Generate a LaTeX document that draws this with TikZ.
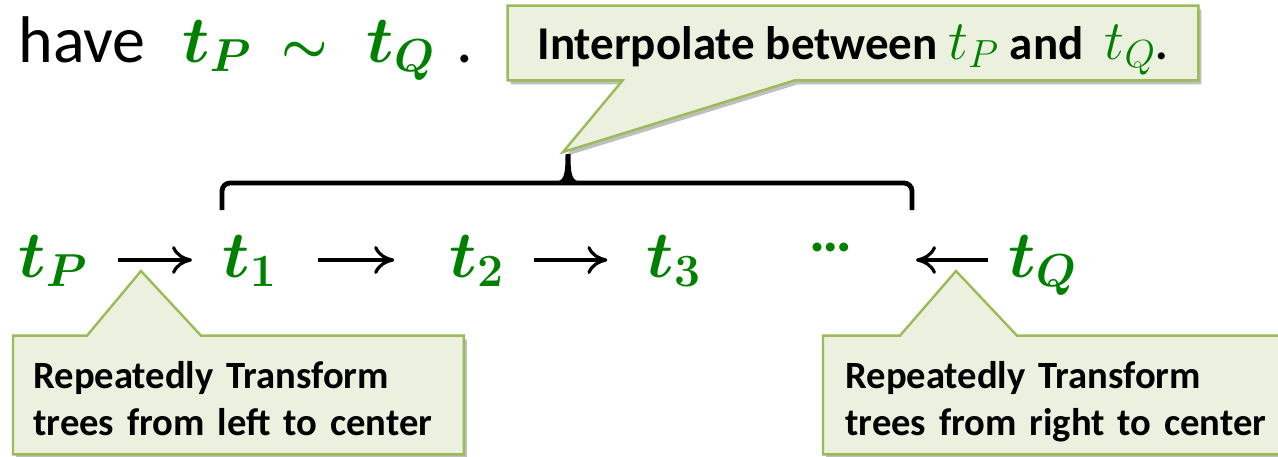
\RequirePackage{fix-cm}
\documentclass[tikz,border=0pt]{standalone}
\usepackage[no-math]{fontspec}
\setmainfont{Carlito}
\usepackage{bm}
\usetikzlibrary{positioning,arrows.meta,backgrounds,shadows}
\definecolor{moss}{HTML}{9BBB59}
\definecolor{pale}{HTML}{EBF1DE}
\definecolor{leaf}{HTML}{008000}
\newcommand{\boxterm}[1]{{\fontsize{28}{30}\selectfont\textcolor{leaf}{$#1$}}}
\tikzset{term/.style={inner sep=0pt,text=leaf,text height=24pt,text depth=7pt,font=\fontsize{33}{38}\selectfont},plain/.style={inner sep=0pt,font=\fontsize{33}{36}\selectfont},link/.style={line width=1.6pt,-{Computer Modern Rightarrow[length=10pt,width=14pt]}},bracket/.style={line width=2.4pt},note/.style={inner sep=0pt,font=\bfseries\fontsize{19.3}{23.5}\selectfont},bubble/.style={draw=moss,line width=1.2pt,fill=pale,drop shadow={shadow xshift=1.5pt,shadow yshift=-2pt,opacity=.25,fill=black}}}

\begin{document}
\begin{tikzpicture}[x=0.5pt,y=-0.5pt]
\useasboundingbox (0,0) rectangle (1278,456);
\node[plain,anchor=base west] (have) at (18,62) {have};
\node[term,base right=18pt of have] (tpa) {$\bm{t_P}$};
\node[term,font=\fontsize{26}{30}\selectfont,base right=14.5pt of tpa] (sim) {$\bm{\sim}$};
\node[term,base right=19pt of sim] (tqa) {$\bm{t_Q}$};
\node[plain,base right=10pt of tqa] (dot) {.};
\node[note,font=\bfseries\fontsize{23.5}{26}\selectfont,minimum width=345pt,minimum height=37pt,text height=18pt,text depth=2pt] (interp) at (853,43) {Interpolate between \boxterm{t_P} and~ \boxterm{t_Q}.};
\node[term,anchor=base west] (tp) at (18,277) {$\bm{t_P}$};
\node[term,base right=67pt of tp] (t1) {$\bm{t_1}$};
\node[term,base right=86pt of t1] (t2) {$\bm{t_2}$};
\node[term,base right=71pt of t2] (t3) {$\bm{t_3}$};
\node[inner sep=0pt,text=leaf,font=\bfseries\fontsize{30}{34}\selectfont,base right=54pt of t3,yshift=13pt] (dots) {…};
\node[term,anchor=base west] (tQ) at (1008,277) {$\bm{t_Q}$};
\node[note,anchor=base west,align=left,text width=205pt,inner xsep=10pt,text height=26pt,text depth=33pt] (lnote) at (13,388) {Repeatedly Transform\\trees from left to center};
\node[note,anchor=base west,align=left,text width=230pt,inner xsep=11pt,text height=26pt,text depth=33pt] (rnote) at (823,388) {Repeatedly Transform\\trees from right to center};
\coordinate (bl) at (222,210);
\coordinate (br) at (912,210);
\coordinate (bmid) at (568,183);
\coordinate (tipA) at (563,152);
\coordinate (tipB) at (141,271);
\coordinate (tipC) at (956,271);
% brace over t_1 ... t_Q
\draw[bracket,rounded corners=4pt] (bl) |- (bmid) -| (br);
\fill (552,182) .. controls (564,182) and (565.5,177) .. (565.5,154) -- (570.5,154) .. controls (570.5,177) and (572,182) .. (584,182) -- cycle;
\draw[link,shorten <=15pt,shorten >=15pt] (tp) -- (t1);
\draw[link,shorten <=20.5pt,shorten >=27.5pt] (t1) -- (t2);
\draw[link,shorten <=15pt,shorten >=19.5pt] (t2) -- (t3);
\draw[link,shorten <=10pt,shorten >=2pt] (tQ) -- (tQ -| br);
\begin{scope}[on background layer]
\draw[bubble] (interp.north west) -- (interp.north east) -- (interp.south east) -- ([xshift=143.5pt]interp.south west) -- (tipA) -- ([xshift=57.5pt]interp.south west) -- (interp.south west) -- cycle;
\draw[bubble] (lnote.north west) -- ([xshift=37pt]lnote.north west) -- (tipB) -- ([xshift=94pt]lnote.north west) -- (lnote.north east) |- (lnote.south west) -- cycle;
\draw[bubble] (rnote.north west) -- ([xshift=38.5pt]rnote.north west) -- (tipC) -- ([xshift=97pt]rnote.north west) -- (rnote.north east) |- (rnote.south west) -- cycle;
\end{scope}
\end{tikzpicture}
\end{document}
